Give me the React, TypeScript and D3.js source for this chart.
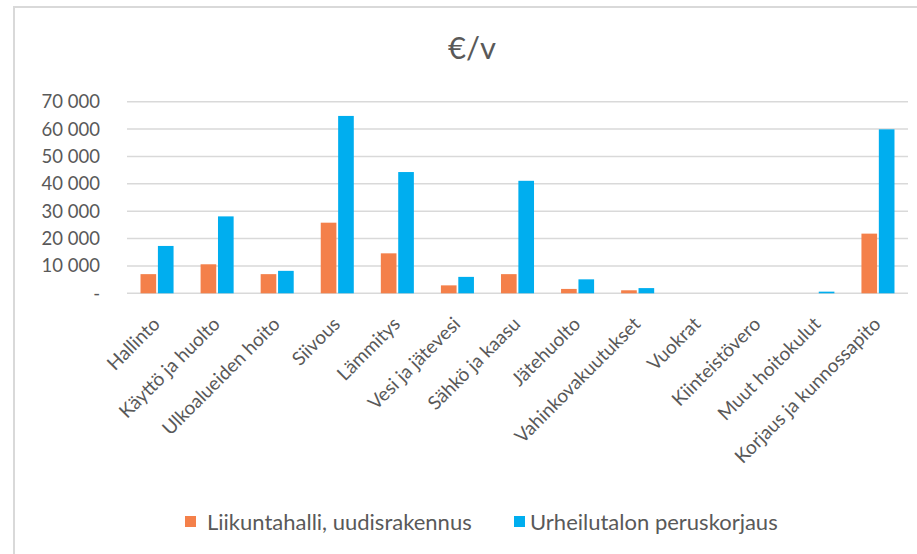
import React from "react";
import * as d3 from "d3";

const categories = [
  "Hallinto",
  "Käyttö ja huolto",
  "Ulkoalueiden hoito",
  "Siivous",
  "Lämmitys",
  "Vesi ja jätevesi",
  "Sähkö ja kaasu",
  "Jätehuolto",
  "Vahinkovakuutukset",
  "Vuokrat",
  "Kiinteistövero",
  "Muut hoitokulut",
  "Korjaus ja kunnossapito",
];
const seriesNames = ["Liikuntahalli, uudisrakennus", "Urheilutalon peruskorjaus"];
const liikuntahalli = [7000, 10600, 7000, 25800, 14600, 2900, 7000, 1600, 1100, 0, 0, 0, 21800];
const urheilutalo = [17300, 28100, 8200, 64800, 44300, 6000, 41100, 5100, 1900, 0, 0, 600, 59900];
const yTicks = [0, 10000, 20000, 30000, 40000, 50000, 60000, 70000];
const colors = ["#F4804A", "#00AEEF"];

const W = 917;
const H = 554;
const FONT = "Lato, 'Open Sans', sans-serif";

export default function App() {
  const left = 127;
  const right = 908;
  const top = 101.7;
  const bottom = 293.3;

  const x0 = d3.scaleBand<string>().domain(categories).range([left, right]).paddingInner(0.45).paddingOuter(0.225);
  const x1 = d3.scaleBand<number>().domain([0, 1]).range([0, x0.bandwidth()]).paddingInner(0.1);
  const y = d3.scaleLinear().domain([0, 70000]).range([bottom, top]);
  const fmt = (v: number) => (v === 0 ? "-" : d3.format(",")(v).replace(/,/g, " "));
  const data = [liikuntahalli, urheilutalo];

  return (
    <svg width={W} height={H} style={{ position: "absolute", left: 0, top: 0, background: "#fff" }}>
      <rect x={0} y={0} width={W} height={H} fill="#fff" />
      <rect x={14} y={7} width={W + 20} height={H + 20} fill="none" stroke="#d9d9d9" strokeWidth={2} />
      <text x={472} y={59} textAnchor="middle" fontFamily={FONT} fontSize={31} fill="#595959">
        €/v
      </text>
      {yTicks.map((t) => (
        <g key={t}>
          <line x1={left} x2={right} y1={y(t)} y2={y(t)} stroke="#d9d9d9" strokeWidth={1.5} />
          <text x={100} y={y(t)} dy="0.35em" textAnchor="end" fontFamily={FONT} fontSize={18.5} fill="#595959">
            {fmt(t)}
          </text>
        </g>
      ))}
      {categories.map((c, i) => (
        <g key={c}>
          {data.map((s, j) =>
            s[i] > 0 ? (
              <rect
                key={j}
                x={(x0(c) as number) + (x1(j) as number)}
                y={y(s[i])}
                width={x1.bandwidth()}
                height={bottom - y(s[i])}
                fill={colors[j]}
              />
            ) : null
          )}
        </g>
      ))}
      {categories.map((c) => {
        const cx = (x0(c) as number) + x0.bandwidth() / 2 + 4;
        const cy = bottom + 32;
        return (
          <text
            key={c}
            transform={`translate(${cx},${cy}) rotate(-45)`}
            textAnchor="end"
            fontFamily={FONT}
            fontSize={19}
            fill="#595959"
          >
            {c}
          </text>
        );
      })}
      {seriesNames.map((n, j) => {
        const lx = j === 0 ? 185 : 514;
        return (
          <g key={n}>
            <rect x={lx} y={516} width={11} height={11} fill={colors[j]} />
            <text x={lx + (j === 0 ? 22 : 16)} y={522} dy="0.35em" fontFamily={FONT} fontSize={22} fill="#595959">
              {n}
            </text>
          </g>
        );
      })}
    </svg>
  );
}
